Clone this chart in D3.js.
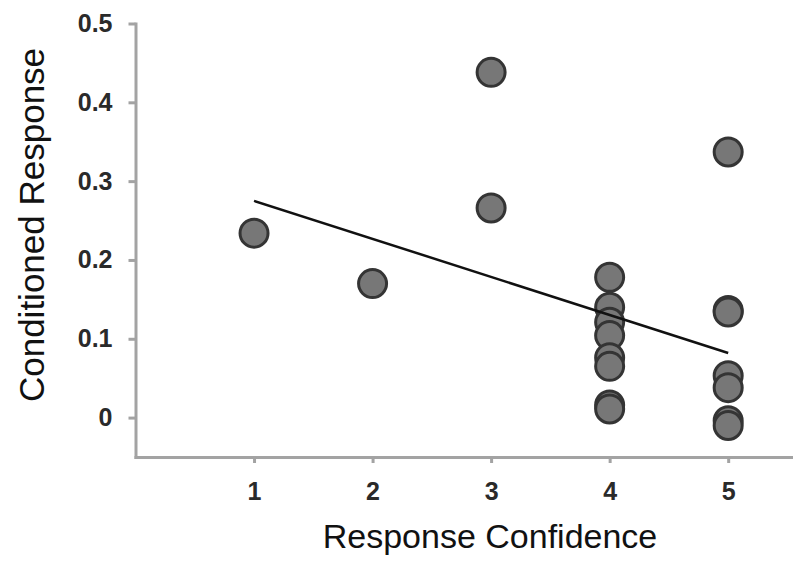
<!DOCTYPE html>
<html>
<head>
<meta charset="utf-8">
<script src="https://cdn.jsdelivr.net/npm/d3@7"></script>
<style>
  body { margin: 0; background: #fff; }
  svg { display: block; font-family: "Liberation Sans", Arial, sans-serif; }
  .axis path, .axis line { stroke: #a3a3a3; stroke-width: 3; }
  .axis text { fill: #2a2a2a; font-size: 25px; font-weight: bold; }
</style>
</head>
<body>
<svg id="graph" width="800" height="568"></svg>
<script>
// confidence rating (x) and conditioned response (y) for each subject
var confidence = [1, 2, 3, 3, 4, 4, 4, 4, 4, 4, 4, 4, 5, 5, 5, 5, 5, 5, 5];
var response   = [0.234, 0.170, 0.438, 0.266,
                  0.178, 0.140, 0.121, 0.104, 0.076, 0.065, 0.016, 0.011,
                  0.337, 0.136, 0.053, 0.038, -0.004, -0.010, 0.134];

// fitted line at x = 1 and x = 5
var fitX = [1, 5];
var fitY = [0.275, 0.082];

var xTicks = [1, 2, 3, 4, 5];
var yTicks = [0, 0.1, 0.2, 0.3, 0.4, 0.5];

var svg = d3.select('#graph');

var x = d3.scaleLinear().domain([0, 5.53]).range([135.5, 791]);
var y = d3.scaleLinear().domain([-0.05, 0.5]).range([457, 23.5]);

// axes
svg.append('g')
    .attr('class', 'axis')
    .attr('transform', 'translate(' + x(0) + ',0)')
    .call(d3.axisLeft(y)
        .tickValues(yTicks)
        .tickSize(7)
        .tickSizeOuter(0)
        .tickPadding(16)
        .tickFormat(function (d) { return d === 0 ? '0' : d3.format('.1f')(d); }));

svg.append('g')
    .attr('class', 'axis')
    .attr('transform', 'translate(0,' + y(-0.05) + ')')
    .call(d3.axisBottom(x)
        .tickValues(xTicks)
        .tickSize(6)
        .tickSizeOuter(0)
        .tickPadding(19)
        .tickFormat(d3.format('d')));

svg.selectAll('.axis .domain').attr('stroke-linecap', 'square');

// points
var pts = confidence.map(function (c, i) { return {x: c, y: response[i]}; });
svg.selectAll('.dot')
    .data(pts)
    .enter()
    .append('circle')
    .classed('dot', true)
    .attr('cx', function (d) { return x(d.x); })
    .attr('cy', function (d) { return y(d.y); })
    .attr('r', 14)
    .attr('fill', '#777777')
    .attr('stroke', '#343434')
    .attr('stroke-width', 3);

// regression line
svg.append('path')
    .datum(fitX.map(function (v, i) { return [v, fitY[i]]; }))
    .attr('fill', 'none')
    .attr('stroke', '#111')
    .attr('stroke-width', 2.5)
    .attr('d', d3.line()
        .x(function (d) { return x(d[0]); })
        .y(function (d) { return y(d[1]); }));

// axis titles
svg.append('text')
    .attr('x', 490)
    .attr('y', 548)
    .attr('text-anchor', 'middle')
    .attr('font-size', 34)
    .attr('fill', '#111')
    .text('Response Confidence');

svg.append('text')
    .attr('transform', 'translate(44,225) rotate(-90)')
    .attr('text-anchor', 'middle')
    .attr('font-size', 35)
    .attr('fill', '#111')
    .text('Conditioned Response');
</script>
</body>
</html>
